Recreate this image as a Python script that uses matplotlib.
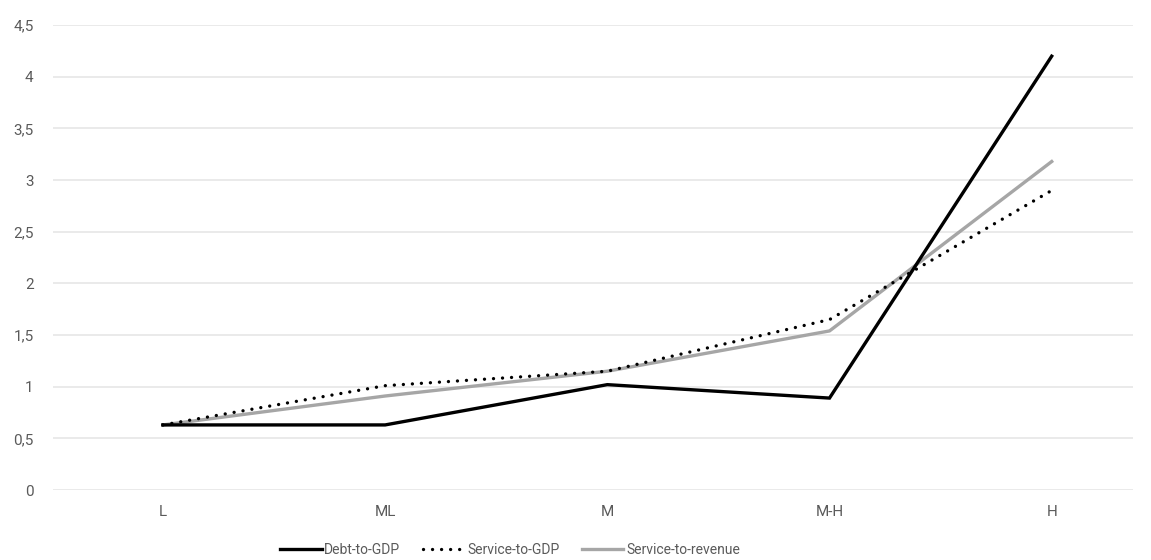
import matplotlib
matplotlib.use("Agg")
import matplotlib.pyplot as plt
from matplotlib.ticker import FuncFormatter

plt.rcParams['font.family'] = ['Roboto', 'DejaVu Sans']

categories = ["L", "ML", "M", "M-H", "H"]
debt_to_gdp = [0.63, 0.63, 1.02, 0.89, 4.20]
service_to_gdp = [0.63, 1.01, 1.15, 1.65, 2.90]
service_to_revenue = [0.63, 0.91, 1.15, 1.54, 3.18]

fig = plt.figure(figsize=(11.51, 5.60), dpi=100)
ax = fig.add_axes([0.046, 0.125, 0.938, 0.830])

x = list(range(len(categories)))
ax.plot(x, debt_to_gdp, color="#000000", lw=2.4, solid_joinstyle="miter",
        label="Debt-to-GDP", zorder=4)
ax.plot(x, service_to_gdp, color="#000000", lw=2.4, linestyle=(0, (0.01, 2.7)),
        dash_capstyle="round", label="Service-to-GDP", zorder=3)
ax.plot(x, service_to_revenue, color="#a6a6a6", lw=2.4,
        label="Service-to-revenue", zorder=2)

ax.set_xlim(-0.495, 4.364)
ax.set_ylim(0, 4.5)
ax.set_yticks([i * 0.5 for i in range(10)])
ax.yaxis.set_major_formatter(FuncFormatter(lambda v, p: f"{v:g}".replace(".", ",")))
ax.set_xticks(x)
ax.set_xticklabels(categories)

ax.grid(axis="y", color="#e8e8e8", lw=1.3)
ax.set_axisbelow(True)
for s in ax.spines.values():
    s.set_visible(False)
ax.tick_params(axis="both", length=0, colors="#5a5a5a", labelsize=11)
ax.tick_params(axis="y", pad=14)
ax.tick_params(axis="x", pad=11)

leg = fig.legend(loc="center", bbox_to_anchor=(0.443, 0.018), ncol=3,
                 frameon=False, fontsize=10, handlelength=3.0,
                 handletextpad=0.2, columnspacing=1.6)
for t in leg.get_texts():
    t.set_color("#5a5a5a")

fig.savefig("out.png", dpi=100)
